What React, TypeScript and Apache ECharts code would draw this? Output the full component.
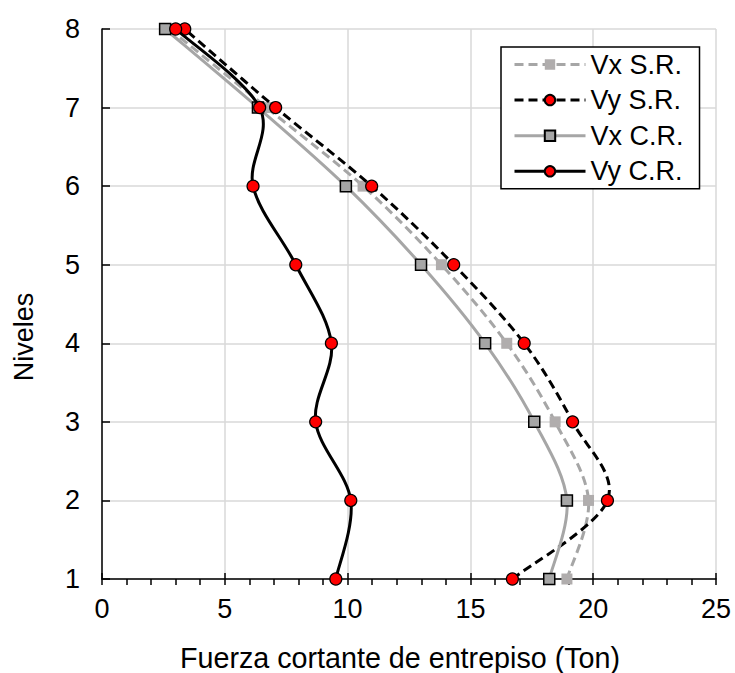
import React, { useEffect, useRef } from 'react';
import * as echarts from 'echarts';

const levels = [1, 2, 3, 4, 5, 6, 7, 8];
const vxSR = [18.93, 19.81, 18.45, 16.48, 13.82, 10.63, 6.7, 2.75];
const vySR = [16.71, 20.58, 19.16, 17.19, 14.32, 10.98, 7.07, 3.37];
const vxCR = [18.21, 18.93, 17.6, 15.6, 12.99, 9.93, 6.35, 2.57];
const vyCR = [9.52, 10.13, 8.7, 9.34, 7.89, 6.15, 6.42, 3.0];
const seriesNames = ['Vx S.R.', 'Vy S.R.', 'Vx C.R.', 'Vy C.R.'];
const xTicks = [0, 5, 10, 15, 20, 25];

const FONT = 'Liberation Sans, Arial, sans-serif';

const defs = [
  { name: seriesNames[0], data: vxSR, color: '#A6A6A6', dash: [9, 5] as number[] | null, symbol: 'rect', size: 11, fill: '#B0ADAD', border: 'transparent', bw: 0 },
  { name: seriesNames[1], data: vySR, color: '#000000', dash: [9, 5] as number[] | null, symbol: 'circle', size: 12, fill: '#FF0000', border: '#000000', bw: 1.2 },
  { name: seriesNames[2], data: vxCR, color: '#A6A6A6', dash: null as number[] | null, symbol: 'rect', size: 11, fill: '#A6A6A6', border: '#000000', bw: 1.5 },
  { name: seriesNames[3], data: vyCR, color: '#000000', dash: null as number[] | null, symbol: 'circle', size: 12, fill: '#FF0000', border: '#000000', bw: 1.2 },
];

function catmullPath(pts: number[][]): string {
  let d = `M${pts[0][0]},${pts[0][1]}`;
  for (let i = 0; i < pts.length - 1; i++) {
    const p0 = pts[i - 1] || pts[i];
    const p1 = pts[i];
    const p2 = pts[i + 1];
    const p3 = pts[i + 2] || pts[i + 1];
    const c1x = p1[0] + (p2[0] - p0[0]) / 6;
    const c1y = p1[1] + (p2[1] - p0[1]) / 6;
    const c2x = p2[0] - (p3[0] - p1[0]) / 6;
    const c2y = p2[1] - (p3[1] - p1[1]) / 6;
    d += ` C${c1x},${c1y} ${c2x},${c2y} ${p2[0]},${p2[1]}`;
  }
  return d;
}

function buildOption() {
  const series: any[] = [];
  defs.forEach((d, i) => {
    series.push({
      type: 'custom',
      name: d.name + ' curve',
      coordinateSystem: 'cartesian2d',
      xAxisIndex: 0,
      yAxisIndex: 0,
      silent: true,
      z: 2 + i * 2,
      data: [[d.data[0], levels[0]]],
      encode: { x: 0, y: 1 },
      renderItem: (params: any, api: any) => {
        const pts = d.data.map((v, k) => api.coord([v, levels[k]]));
        return {
          type: 'path',
          shape: { pathData: catmullPath(pts) },
          style: {
            fill: 'none',
            stroke: d.color,
            lineWidth: 3,
            lineDash: d.dash || undefined,
            lineCap: 'butt',
          },
        };
      },
    });
    series.push({
      type: 'line',
      name: d.name,
      xAxisIndex: 0,
      yAxisIndex: 0,
      z: 3 + i * 2,
      data: d.data.map((v, k) => [v, levels[k]]),
      symbol: d.symbol,
      symbolSize: d.size,
      showSymbol: true,
      lineStyle: { width: 3, color: d.color, opacity: 0, type: d.dash || 'solid' },
      itemStyle: { color: d.fill, borderColor: d.border, borderWidth: d.bw, opacity: 1 },
      emphasis: { disabled: true },
    });
  });

  return {
    animation: false,
    backgroundColor: '#ffffff',
    textStyle: { fontFamily: FONT },
    grid: { left: 102, right: 19, top: 29, bottom: 94, containLabel: false, outerBoundsMode: 'none' },
    xAxis: [
      {
        type: 'value',
        min: xTicks[0],
        max: xTicks[xTicks.length - 1],
        interval: 5,
        axisLine: { show: true, lineStyle: { color: '#000', width: 1.5 } },
        axisTick: { show: true, inside: false, length: 6, lineStyle: { color: '#000', width: 1.5 } },
        minorTick: { show: true, splitNumber: 5, length: 6, lineStyle: { color: '#000', width: 1.5 } },
        axisLabel: { fontSize: 27, color: '#000', fontFamily: FONT, margin: 16 },
        splitLine: { show: true, lineStyle: { color: '#D9D9D9', width: 1.5 } },
      },
      {
        type: 'value',
        position: 'bottom',
        min: xTicks[0],
        max: xTicks[xTicks.length - 1],
        interval: 5,
        axisLine: { show: false },
        axisTick: { show: true, inside: true, length: 6, lineStyle: { color: '#000', width: 1.5 } },
        axisLabel: { show: false },
        splitLine: { show: false },
      },
    ],
    yAxis: {
      type: 'value',
      min: levels[0],
      max: levels[levels.length - 1],
      interval: 1,
      axisLine: { show: true, lineStyle: { color: '#000', width: 1.5 } },
      axisTick: { show: true, inside: true, length: 8, lineStyle: { color: '#000', width: 1.5 } },
      axisLabel: { fontSize: 27, color: '#000', fontFamily: FONT, margin: 22 },
      splitLine: { show: true, lineStyle: { color: '#D9D9D9', width: 1.5 } },
    },
    legend: {
      orient: 'vertical',
      left: 501,
      top: 47,
      padding: [4, 16, 4, 12],
      itemGap: 8.6,
      itemWidth: 71,
      itemHeight: 13,
      borderColor: '#000',
      borderWidth: 1.5,
      backgroundColor: '#ffffff',
      selectedMode: false,
      textStyle: { fontSize: 27, color: '#000', fontFamily: FONT, lineHeight: 27 },
      data: defs.map((d) => ({
        name: d.name,
        lineStyle: { width: 3, color: d.color, opacity: 1, type: d.dash || 'solid' },
      })),
    },
    graphic: [
      {
        type: 'text',
        x: 400,
        y: 658,
        style: {
          text: 'Fuerza cortante de entrepiso (Ton)',
          fontSize: 28.7,
          fontFamily: FONT,
          fill: '#000',
          textAlign: 'center',
          textVerticalAlign: 'middle',
        },
      },
      {
        type: 'text',
        x: 24,
        y: 337,
        rotation: Math.PI / 2,
        style: {
          text: 'Niveles',
          fontSize: 27,
          fontFamily: FONT,
          fill: '#000',
          textAlign: 'center',
          textVerticalAlign: 'middle',
        },
      },
    ],
    series,
  };
}

export default function App() {
  const ref = useRef<HTMLDivElement>(null);
  useEffect(() => {
    const chart = echarts.init(ref.current!, null, { renderer: 'svg' });
    chart.setOption(buildOption() as any);
    return () => chart.dispose();
  }, []);
  return <div ref={ref} style={{ position: 'absolute', left: 0, top: 0, width: 735, height: 673 }} />;
}
